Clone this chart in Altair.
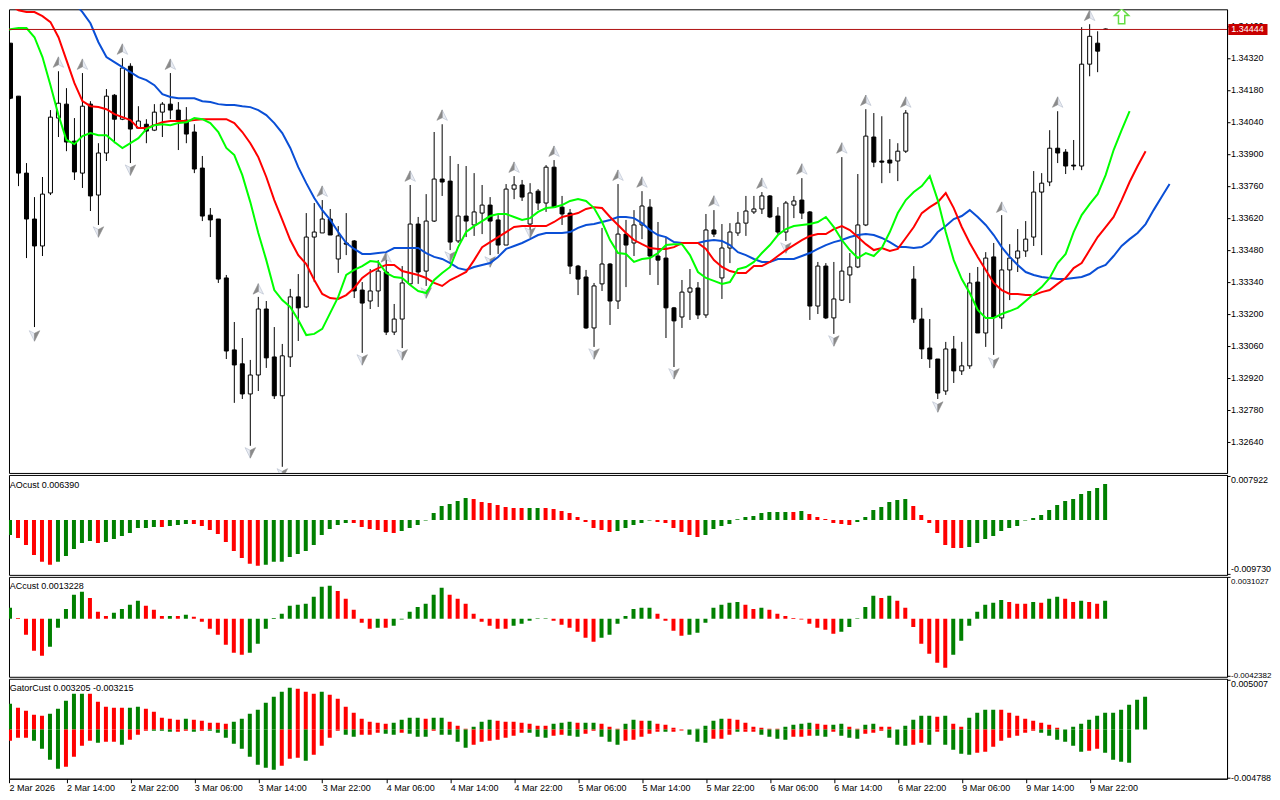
import json
import altair as alt
import pandas as pd

BASE = 1.30000
opens = [4476,4384,4152,3815,3614,3496,3728,4056,4117,3955,3815,4117,3719,3903,4156,4051,4283,4012,4029,4003,
4082,4117,4091,4047,3995,3837,3631,3614,3356,3041,2980,2848,2931,3220,3010,2840,3010,3273,3229,3535,
3553,3614,3439,3509,3518,3303,3255,3299,3382,3119,3176,3330,3592,3386,3605,3789,3780,3518,3627,3588,
3640,3675,3610,3500,3745,3763,3592,3736,3684,3841,3666,3640,3408,3360,3137,3330,3417,3255,3548,3509,
3588,3666,3452,3443,3225,3185,3294,3312,3194,3566,3356,3487,3553,3596,3645,3658,3715,3627,3557,3675,
3697,3645,3233,3408,3181,3259,3369,3404,3588,3973,3868,3872,3868,3911,3351,3176,3049,3001,2861,3045,
2949,2971,3338,3115,3448,3181,3391,3443,3474,3535,3732,3776,3924,3907,3850,3846,4292,4384,4446]
highs = [4485,4384,4152,3859,3710,3798,4091,4261,4187,4056,4253,4130,3946,4183,4161,4318,4296,4108,4051,4117,
4126,4253,4126,4104,4029,3890,3662,3614,3369,3163,3093,2997,3273,3255,3141,3067,3308,3373,3640,3684,
3697,3658,3583,3640,3522,3338,3395,3434,3456,3242,3408,3763,3623,3723,3995,4029,3890,3855,3846,3815,
3763,3710,3631,3767,3802,3785,3771,3745,3850,3872,3715,3658,3413,3391,3334,3575,3421,3767,3610,3653,
3736,3701,3601,3531,3229,3347,3395,3338,3636,3653,3592,3596,3645,3715,3715,3732,3719,3666,3693,3715,
3793,3649,3426,3421,3426,3885,3465,3811,4095,4078,4064,3964,3946,4091,3408,3225,3176,3001,3076,3102,
3076,3378,3404,3469,3509,3631,3504,3570,3605,3824,3815,4003,4086,3920,3960,4454,4467,4436,4448]
lows = [4375,4139,3758,3443,3141,3452,3719,3973,3911,3785,3750,3649,3588,3868,3946,4047,3859,4008,3946,3999,
3973,4051,3916,3946,3815,3605,3535,3334,3001,2809,2826,2621,2861,2962,2826,2529,2966,3080,3225,3338,
3553,3544,3378,3456,3268,3028,3220,3229,3106,3106,3049,3325,3330,3321,3601,3715,3478,3509,3535,3540,
3548,3456,3461,3500,3701,3693,3553,3653,3645,3666,3588,3373,3281,3133,3054,3299,3150,3220,3316,3452,
3526,3369,3325,3093,2966,3137,3172,3176,3181,3535,3264,3421,3540,3540,3636,3636,3618,3548,3518,3618,
3614,3172,3198,3176,3111,3255,3246,3399,3583,3841,3771,3815,3780,3903,3159,3001,2962,2826,2844,2896,
2931,2958,3115,3054,3019,3133,3259,3382,3448,3496,3456,3758,3859,3811,3828,3828,4239,4257,4442]
closes = [4384,4143,3815,3614,3496,3723,4060,4121,3951,3820,4108,3715,3903,4152,4051,4275,4008,4043,3999,4082,
4117,4091,4047,3986,3833,3627,3610,3351,3036,2975,2848,2931,3220,3006,2840,3015,3273,3225,3535,3557,
3614,3544,3540,3504,3299,3246,3299,3386,3119,3176,3334,3592,3382,3605,3789,3776,3513,3627,3605,3645,
3675,3605,3500,3745,3763,3710,3728,3684,3841,3666,3636,3408,3351,3137,3321,3417,3255,3548,3500,3588,
3671,3452,3434,3225,3168,3294,3312,3194,3566,3548,3487,3557,3596,3649,3658,3715,3623,3557,3684,3693,
3640,3233,3408,3181,3264,3386,3404,3588,3977,3863,3863,3859,3911,4078,3176,3045,3001,2852,3045,2949,
2971,3334,3115,3443,3185,3391,3443,3474,3526,3732,3771,3924,3903,3846,3846,4292,4414,4349,4444]

lips = [4438,4445,4450,4450,4410,4323,4200,4069,3960,3942,3977,3990,3981,3981,3951,3925,3946,3968,4008,4025,
4029,4025,4034,4038,4056,4051,4034,3995,3925,3894,3806,3688,3553,3434,3303,3259,3229,3172,3106,3111,
3133,3203,3273,3369,3391,3408,3430,3426,3378,3360,3356,3325,3299,3290,3347,3378,3404,3491,3557,3583,
3605,3627,3636,3636,3623,3610,3618,3645,3662,3666,3675,3693,3701,3693,3662,3601,3522,3465,3461,3426,
3439,3443,3465,3500,3504,3504,3456,3382,3356,3343,3330,3338,3395,3404,3426,3465,3500,3544,3570,3583,
3588,3592,3601,3623,3579,3522,3478,3443,3465,3452,3487,3557,3640,3697,3732,3758,3802,3697,3557,3434,
3351,3290,3216,3181,3181,3198,3211,3225,3255,3286,3316,3356,3421,3461,3557,3631,3679,3723,3806,3916,
4003,4086]
teeth = [4572,4550,4528,4520,4520,4502,4476,4410,4310,4209,4130,4108,4104,4095,4073,4060,4047,4012,4012,4025,
4038,4043,4043,4043,4047,4051,4051,4051,4051,4034,3995,3946,3885,3798,3697,3610,3522,3456,3417,3347,
3286,3268,3264,3281,3312,3356,3382,3399,3413,3413,3386,3378,3369,3356,3334,3321,3347,3364,3382,3434,
3491,3513,3535,3557,3579,3583,3583,3583,3583,3601,3623,3631,3640,3658,3666,3662,3623,3588,3553,3522,
3504,3487,3483,3483,3491,3509,3509,3509,3483,3434,3404,3386,3378,3378,3408,3408,3426,3452,3478,3500,
3522,3540,3548,3548,3570,3583,3566,3535,3504,3478,3487,3474,3483,3531,3579,3640,3666,3688,3728,3662,
3579,3509,3448,3391,3334,3303,3286,3286,3281,3281,3294,3303,3330,3356,3399,3421,3478,3535,3579,3623,
3697,3776,3846,3911]
jaw_start = 9
jaw = [4559,4520,4471,4388,4323,4301,4279,4257,4235,4222,4200,4161,4148,4143,4143,4143,4130,4126,4117,4113,
4113,4108,4104,4091,4069,4034,3990,3925,3841,3771,3706,3653,3610,3557,3509,3483,3461,3461,3465,3469,
3487,3487,3487,3487,3465,3448,3439,3421,3399,3391,3404,3413,3421,3448,3483,3496,3509,3526,3544,3553,
3553,3553,3557,3575,3588,3592,3601,3610,3623,3623,3618,3596,3566,3544,3535,3513,3509,3509,3509,3518,
3522,3518,3500,3469,3456,3439,3426,3426,3439,3439,3439,3452,3465,3483,3500,3513,3522,3535,3544,3548,
3544,3531,3513,3491,3491,3487,3491,3513,3557,3583,3614,3627,3653,3623,3588,3544,3491,3448,3413,3382,
3369,3360,3356,3351,3351,3356,3360,3373,3399,3413,3452,3496,3526,3553,3592,3653,3710,3767]

up_idx = [7,10,15,21,32,40,48,51,55,64,69,77,80,89,95,100,105,108,113,125,132,136]
up_pts = [4301,4292,4358,4292,3308,3736,3448,3802,4069,3841,3911,3806,3776,3693,3771,3833,3925,4134,4126,3666,4126,4506]
down_idx = [4,12,16,31,35,45,50,53,56,61,66,74,84,98,104,117,124]
down_pts = [3102,3557,3828,2590,2498,2997,3019,3290,3448,3426,3553,3023,2936,3487,3080,2791,2984]

ao = [-300,-270,-324,-450,-630,-756,-810,-756,-648,-522,-414,-378,-414,-396,-342,-288,-234,-144,-144,-126,
-126,-108,-90,-72,-72,-108,-180,-252,-396,-558,-684,-792,-828,-810,-756,-756,-666,-612,-558,-450,
-270,-162,-90,-54,-54,-126,-162,-180,-216,-234,-198,-144,-90,-12,126,252,288,342,396,378,
324,306,270,234,216,216,216,216,216,198,162,126,54,-36,-144,-180,-216,-198,-144,-90,
-54,-12,-36,-54,-144,-216,-270,-306,-270,-162,-108,-72,12,54,72,126,144,144,144,144,
162,108,54,18,-54,-72,-90,-36,54,180,234,324,360,378,252,90,-54,-234,-450,-504,
-504,-486,-414,-342,-288,-198,-144,-108,-12,36,90,180,270,342,378,468,522,576,648]
ao_col = "ggrrrrrggg" "ggrggggggg" "rgggrrrrrr" "rrrggggggg" "ggggrrrrrr" "gggggggggr" "rrrrrrggrr" "rrrrrrrggg" \
         "ggrrrrrrgg" "gggggggggr" "grrrrrrggg" "ggggrrrrrr" "rggggggggg" "ggggggggg"

ac = [60,82,7,-119,-238,-275,-208,-67,74,179,201,156,52,22,45,74,104,134,97,67,
22,22,22,30,15,-22,-74,-119,-193,-253,-268,-253,-186,-74,7,37,97,104,112,164,
238,246,208,149,67,-30,-74,-67,-67,-52,-5,52,89,112,179,231,179,149,112,37,
-22,-52,-74,-74,-52,-37,-15,5,5,-15,-45,-67,-97,-141,-171,-141,-119,-37,22,74,
82,82,37,-15,-89,-126,-119,-104,-30,82,104,119,126,104,74,82,67,37,22,7,
-5,-37,-67,-82,-112,-97,-60,5,89,171,156,171,134,82,-60,-186,-260,-327,-365,-268,
-164,-52,52,104,119,141,126,112,112,126,119,149,164,149,126,134,126,112,134]
ac_col = "ggrrrrgggg" "grrrggggrr" "rgrgrrrrrr" "rggggggggg" "ggrrrrrgrg" "ggggggrrrr" "rrrrgggggr" "rrrrrggggg" \
         "ggrrrrgggg" "gggrrgrrrr" "rrrrrggggg" "rgrrrrrrrg" "ggggggrrrg" "rggrrgrrg"

gator_up = [197,257,217,187,147,137,157,207,287,357,357,357,277,227,217,217,217,227,207,177,
117,107,97,107,97,87,67,67,57,77,107,157,197,267,327,377,417,407,377,357,
377,347,307,227,167,107,77,67,57,67,97,117,117,107,117,117,77,37,7,27,
77,97,87,77,77,67,57,37,37,57,67,77,67,67,67,57,27,7,57,97,
87,87,57,47,17,0,0,7,37,87,107,107,97,67,27,17,7,7,27,47,
57,67,57,47,47,57,27,7,47,57,27,27,0,37,97,137,137,127,137,57,
27,117,167,197,197,197,167,137,107,87,67,47,17,0,27,57,97,137,167,167,
197,247,297,327]
gator_up_col = "ggrrrrgggg" "grrrrrggrr" "rrrgrrrrrg" "gggggggrrr" "grrrrrrrrg" "gggrggrrrg" "ggrrrrrrrg" "ggrggrrrgg" \
               "rgrrrrgggg" "grrrrrrrgg" "ggrrggrrgg" "rrgggggrgr" "rggggrrrrr" "rrrggggggg" "gggg"
gator_dn = [-170,-113,-83,-83,-113,-193,-303,-393,-373,-273,-163,-113,-133,-123,-123,-153,-103,-53,-13,-13,
-13,-23,-23,-13,-23,-13,-13,-33,-83,-143,-193,-273,-353,-383,-403,-363,-293,-283,-313,-253,
-163,-83,-13,-53,-73,-53,-53,-33,-43,-53,-33,-43,-73,-73,-13,-53,-53,-123,-183,-153,
-123,-113,-103,-83,-63,-33,-33,-73,-83,-63,-53,-63,-73,-43,-13,-73,-123,-153,-113,-103,
-73,-43,-23,-23,-23,-10,-53,-123,-133,-93,-93,-53,-23,-23,-23,-53,-73,-93,-103,-73,
-73,-63,-63,-73,-23,-63,-83,-93,-43,-33,-13,-83,-153,-163,-153,-133,-153,-23,-153,-203,
-243,-253,-233,-223,-173,-113,-83,-63,-33,-13,-33,-63,-103,-123,-163,-223,-213,-193,-233,-303,
-323,-333,0,0]
gator_dn_col = "rrrrggggrr" "rrgrrgrrrg" "ggrrgrgggg" "gggggrrrgr" "rrrggrrrgg" "rgggrggggr" "rrrrrrgggr" "rggrrgggrr" \
               "rrrgrrgggr" "rrgrrggggr" "rrggrgggrr" "rgggrrgrgg" "ggrrrrrrrr" "ggggggrrgg" "gggg"

tick_labels = ["2 Mar 2026","2 Mar 14:00","2 Mar 22:00","3 Mar 06:00","3 Mar 14:00","3 Mar 22:00",
               "4 Mar 06:00","4 Mar 14:00","4 Mar 22:00","5 Mar 06:00","5 Mar 14:00","5 Mar 22:00",
               "6 Mar 06:00","6 Mar 14:00","6 Mar 22:00","9 Mar 06:00","9 Mar 14:00","9 Mar 22:00"]
tick_idx = [0.82] + [8 * k for k in range(1, 18)]
price_ticks = [1.34460,1.34320,1.34180,1.34040,1.33900,1.33760,1.33620,1.33480,1.33340,1.33200,1.33060,1.32920,1.32780,1.32640]
last_price = 1.34444

FONT = "Liberation Sans"
FS = 9
GREEN, RED = "#008000", "#FF0000"
pal = {"g": GREEN, "r": RED}
xs = alt.Scale(domain=[0.8125, 153.1875], nice=False, zero=False, padding=0)


def price(p):
    return BASE + p / 1e5


def X(field=None, axis=None):
    return alt.X(field, type="quantitative", scale=xs, title=None, axis=axis)


candles = pd.DataFrame({
    "i": range(len(opens)),
    "top": [price(max(o, c)) for o, c in zip(opens, closes)],
    "bot": [price(min(o, c)) for o, c in zip(opens, closes)],
    "hi": [price(v) for v in highs],
    "lo": [price(v) for v in lows],
    "fill": ["#FFFFFF" if c >= o else "#000000" for o, c in zip(opens, closes)],
})
line_g = pd.DataFrame({"i": range(len(lips)), "v": [price(v) for v in lips]})
line_r = pd.DataFrame({"i": range(len(teeth)), "v": [price(v) for v in teeth]})
line_b = pd.DataFrame({"i": range(jaw_start, jaw_start + len(jaw)), "v": [price(v) for v in jaw]})
ups = pd.DataFrame({"i": up_idx, "v": [price(v) for v in up_pts]})
downs = pd.DataFrame({"i": down_idx, "v": [price(v) for v in down_pts]})

ys = alt.Scale(domain=[1.325022, 1.345322], nice=False, zero=False, padding=0)
y_axis = alt.Axis(values=price_ticks, format=".5f", orient="right", grid=False, tickSize=3, labelPadding=0.5,
                  tickColor="black", domainColor="black", labelColor="black", labelAlign="left",
                  labelFont=FONT, labelFontSize=FS, labelOverlap=False)


def Y(field=None):
    return alt.Y(field, type="quantitative", scale=ys, title=None, axis=y_axis)


wicks = alt.Chart(candles).mark_rule(color="black", strokeWidth=1, clip=True).encode(
    x=X("i"), y=Y("lo"), y2=alt.Y2("hi"))
bodies = alt.Chart(candles).mark_bar(size=4, stroke="black", strokeWidth=1, clip=True, orient="vertical").encode(
    x=X("i"), y=Y("bot"), y2=alt.Y2("top"), fill=alt.Fill("fill:N", scale=None))


def arrow(df, path, fill, stroke):
    return alt.Chart(df).mark_point(shape=path, filled=True, fill=fill, stroke=stroke, strokeWidth=0.6, size=110,
                                    opacity=1, clip=True).encode(x=X("i"), y=Y("v"))


arrows = [
    arrow(ups, "M0,-1 L1,1 L0,0.5 Z", "#E9ECF3", "#B4BCCB"),
    arrow(ups, "M0,-1 L0,0.5 L-1,1 Z", "#8A8A8A", "#8A8A8A"),
    arrow(downs, "M0,1 L-1,-1 L0,-0.5 Z", "#E9ECF3", "#B4BCCB"),
    arrow(downs, "M0,1 L0,-0.5 L1,-1 Z", "#8A8A8A", "#8A8A8A"),
]


def mline(df, col):
    return alt.Chart(df).mark_line(color=col, strokeWidth=2, clip=True).encode(x=X("i"), y=Y("v"))


price_rule = alt.Chart(pd.DataFrame({"v": [last_price]})).mark_rule(color="#B01010", strokeWidth=1, clip=True).encode(y=Y("v"))
signal = alt.Chart(pd.DataFrame({"i": [140], "v": [price(4502)]})).mark_point(
    shape="M0,-1 L0.95,-0.1 L0.42,-0.1 L0.42,1 L-0.42,1 L-0.42,-0.1 L-0.95,-0.1 Z",
    filled=True, fill="#FFFFFF", stroke="#66DD44", strokeWidth=1.5, size=225, opacity=1, clip=True
).encode(x=X("i"), y=Y("v"))
box = pd.DataFrame({"a": [153.35], "b": [158.25], "lo": [last_price - 0.00024], "hi": [last_price + 0.00024],
                    "v": [last_price], "t": [f"{last_price:.5f}"]})
price_box = alt.Chart(box).mark_rect(color="#C80000").encode(x=X("a"), x2=alt.X2("b"), y=Y("lo"), y2=alt.Y2("hi"))
price_txt = alt.Chart(box).mark_text(color="white", align="left", baseline="middle", font=FONT, fontSize=FS, dx=3).encode(
    x=X("a"), y=Y("v"), text="t:N")

main = alt.layer(wicks, bodies, *arrows, mline(line_b, "#0A4FD6"), mline(line_r, RED), mline(line_g, "#00FF00"),
                 price_rule, signal, price_box, price_txt).properties(width=1219, height=464)


def panel(series, domain, ticks, digits, label, label_v, x_axis=None, fs=8.9):
    yscale = alt.Scale(domain=domain, nice=False, zero=False, padding=0)
    ax = alt.Axis(values=ticks, orient="right", grid=False, tickSize=3, labelPadding=0.5, labelFlush=True,
                  labelExpr=f"replace(format(datum.value,'.{digits}f'),'\u2212','-')",
                  tickColor="black", domainColor="black", labelColor="black", labelAlign="left",
                  labelFont=FONT, labelFontSize=fs, labelOverlap=False)
    layers = []
    for vals, cols in series:
        df = pd.DataFrame({"i": range(len(vals)), "v": [v / 1e5 for v in vals], "z": [0.0] * len(vals),
                           "c": [pal[c] for c in cols]})
        layers.append(alt.Chart(df).mark_rule(strokeWidth=4, xOffset=-0.5, clip=True).encode(
            x=X("i", axis=x_axis),
            y=alt.Y("v:Q", scale=yscale, axis=ax, title=None),
            y2=alt.Y2("z"),
            color=alt.Color("c:N", scale=None)))
    lab = pd.DataFrame({"i": [0.9], "v": [label_v], "t": [label]})
    layers.append(alt.Chart(lab).mark_text(align="left", baseline="middle", color="black", font=FONT, fontSize=FS).encode(
        x=X("i", axis=x_axis), y=alt.Y("v:Q", scale=yscale, axis=ax, title=None), text="t:N"))
    return alt.layer(*layers).properties(width=1219, height=100)


date_axis = alt.Axis(values=tick_idx, grid=False, tickSize=4, labelPadding=1, labelAlign="left", labelBaseline="top",
                     labelExpr=json.dumps(tick_labels) + "[round(datum.value/8)]", labelOverlap=False, labelBound=False,
                     tickColor="black", domainColor="black", labelColor="black", labelFont=FONT, labelFontSize=FS)

p_ao = panel([(ao, ao_col)], [-0.0099, 0.0081], [-0.00973, 0.007922], 6, "AOcust 0.006390", 0.0063)
p_ac = panel([(ac, ac_col)], [-0.004315, 0.003125], [-0.0042382, 0.0031027], 7, "ACcust 0.0013228", 0.00243, fs=8)
p_ga = panel([(gator_up, gator_up_col), (gator_dn, gator_dn_col)], [-0.00493, 0.00507], [-0.004788, 0.005007], 6,
             "GatorCust 0.003205 -0.003215", 0.00414, x_axis=date_axis)

chart = alt.vconcat(main, p_ao, p_ac, p_ga, spacing=2, bounds="flush").properties(
    padding=0, background="white"
).configure_view(stroke="black", strokeWidth=1)

chart.save("out.html", embed_options={"renderer": "svg", "actions": False})
